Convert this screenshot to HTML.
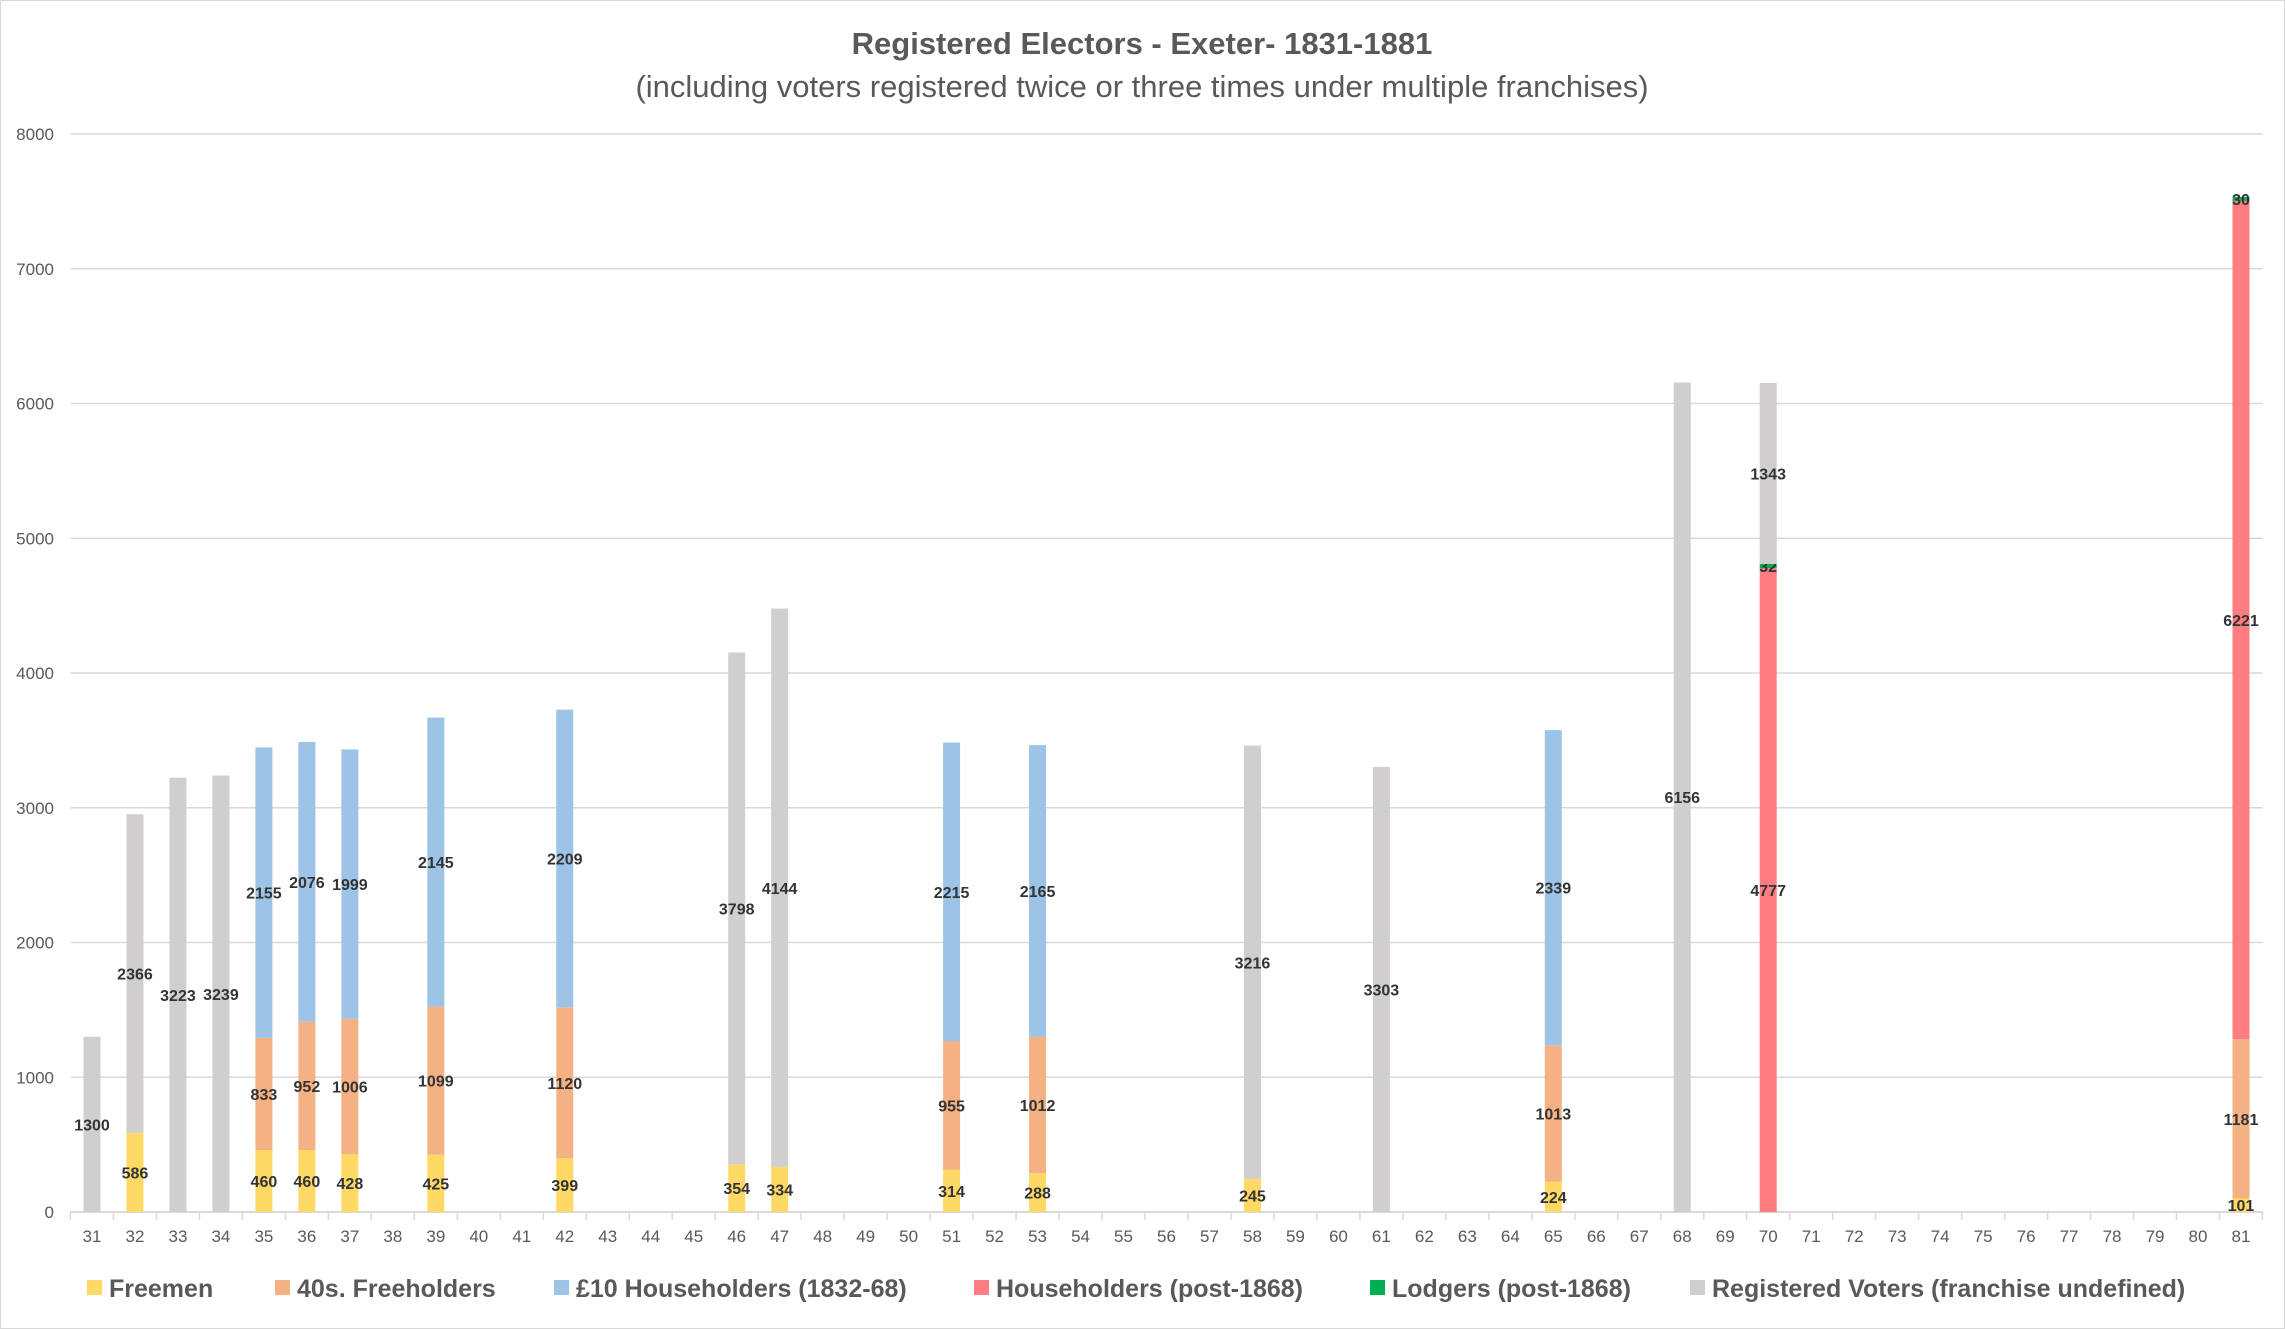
<!DOCTYPE html>
<html><head><meta charset="utf-8"><style>
html,body{margin:0;padding:0;background:#fff}
svg{display:block}
text{font-family:"Liberation Sans",Calibri,sans-serif}
</style></head><body>
<svg id="c" xmlns="http://www.w3.org/2000/svg" width="2285" height="1329" viewBox="0 0 2285 1329">
<rect x="0.5" y="0.5" width="2284" height="1328" fill="#fff" stroke="#d9d9d9"/>
<text x="1142" y="54" text-anchor="middle" font-size="31" font-weight="bold" fill="#595959">Registered Electors - Exeter- 1831-1881</text>
<text x="1142" y="97" text-anchor="middle" font-size="31" fill="#595959">(including voters registered twice or three times under multiple franchises)</text>
<g id="g"></g>
</svg>
<script>
var g=document.getElementById('g'),NS='http://www.w3.org/2000/svg';
function el(t,a,txt){var e=document.createElementNS(NS,t);for(var k in a)e.setAttribute(k,a[k]);if(txt!=null)e.textContent=txt;g.appendChild(e);return e;}
var cw=42.98,L=70.5,R=L+51*cw,Y0=1212,k=(1212-134)/8000,bw=17;
for(var v=0;v<=8000;v+=1000){var y=Y0-v*k;
 if(v>0)el('line',{x1:L,x2:R,y1:y,y2:y,stroke:'#d9d9d9','stroke-width':1.5});
 el('text',{x:54,y:y+6,'text-anchor':'end','font-size':17,fill:'#595959'},v);}
el('line',{x1:L,x2:R,y1:Y0,y2:Y0,stroke:'#d9d9d9','stroke-width':2});
for(var i=0;i<=51;i++){var x=L+i*cw;el('line',{x1:x,x2:x,y1:Y0,y2:Y0+8,stroke:'#d9d9d9','stroke-width':1.5});}
for(var i=0;i<51;i++){el('text',{x:L+(i+.5)*cw,y:1242,'text-anchor':'middle','font-size':17,fill:'#595959'},31+i);}
var C={F:'#FFD966',S:'#F4B183',T:'#9DC3E6',H:'#FF7C80',L:'#00B050',G:'#D0CECE'};
var D={31:[['G',1300]],32:[['F',586],['G',2366]],33:[['G',3223]],34:[['G',3239]],
35:[['F',460],['S',833],['T',2155]],36:[['F',460],['S',952],['T',2076]],37:[['F',428],['S',1006],['T',1999]],
39:[['F',425],['S',1099],['T',2145]],42:[['F',399],['S',1120],['T',2209]],46:[['F',354],['G',3798]],47:[['F',334],['G',4144]],
51:[['F',314],['S',955],['T',2215]],53:[['F',288],['S',1012],['T',2165]],58:[['F',245],['G',3216]],61:[['G',3303]],
65:[['F',224],['S',1013],['T',2339]],68:[['G',6156]],70:[['H',4777],['L',32],['G',1343]],81:[['F',101],['S',1181],['H',6221],['L',30]]};
for(var yr in D){var cx=L+(yr-31+.5)*cw,cum=0;
 D[yr].forEach(function(s){var y1=Y0-(cum+s[1])*k,h=s[1]*k;
  el('rect',{x:cx-bw/2,y:y1,width:bw,height:h,fill:C[s[0]]});
  el('text',{x:cx,y:y1+h/2+6,'text-anchor':'middle','font-size':16,'font-weight':'bold',fill:'#333'},s[1]);
  cum+=s[1];});}
var LG=[['F','Freemen',87],['S','40s. Freeholders',275],['T','£10 Householders (1832-68)',554],['H','Householders (post-1868)',974],['L','Lodgers (post-1868)',1370],['G','Registered Voters (franchise undefined)',1690]];
LG.forEach(function(l){el('rect',{x:l[2],y:1280,width:15,height:15,fill:C[l[0]]});
 el('text',{x:l[2]+22,y:1297,'font-size':25,'font-weight':'bold',fill:'#595959'},l[1]);});
</script>
</body></html>
